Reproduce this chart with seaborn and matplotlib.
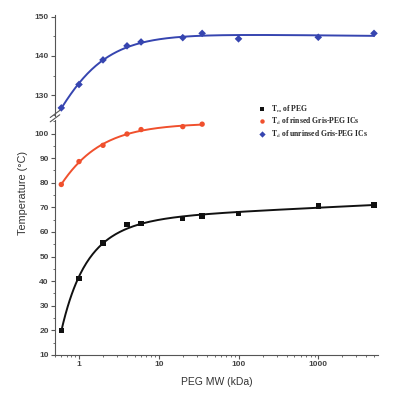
import numpy as np
import pandas as pd
import matplotlib.pyplot as plt
import matplotlib.ticker as mticker
from matplotlib.lines import Line2D
import seaborn as sns

# PEG molecular weight (kDa)
mw = [0.6, 1, 2, 4, 6, 20, 35, 100, 1000, 5000]
mw_rinsed = [0.6, 1, 2, 4, 6, 20, 35]

# temperatures (C)
tm_peg = [20, 41, 55.5, 63, 63.5, 65.5, 66.5, 67.5, 70.5, 71]
td_rinsed = [79.3, 88.6, 95.2, 99.8, 101.6, 102.8, 103.8]
td_unrinsed = [126.7, 132.7, 139, 142.6, 143.6, 144.7, 145.8, 144.4, 144.8, 145.8]

labels = [r'T$_\mathrm{m}$ of PEG',
          r'T$_\mathrm{d}$ of rinsed Gris-PEG ICs',
          r'T$_\mathrm{d}$ of unrinsed Gris-PEG ICs']
colors = ['#111111', '#f0502d', '#3645b0']
markers = ['s', 'o', 'D']


def fit_curve(x, y, x_new):
    # least squares on a simple basis, like the smooth fits in the figure
    x = np.asarray(x, float)
    y = np.asarray(y, float)
    basis = lambda t: np.column_stack([np.ones_like(t), np.log10(t), 1 / t, 1 / t ** 2])
    coef, *_ = np.linalg.lstsq(basis(x), y, rcond=None)
    return basis(x_new) @ coef


pts = pd.concat([
    pd.DataFrame({'mw': mw, 'T': tm_peg, 'series': labels[0]}),
    pd.DataFrame({'mw': mw_rinsed, 'T': td_rinsed, 'series': labels[1]}),
    pd.DataFrame({'mw': mw, 'T': td_unrinsed, 'series': labels[2]}),
])

xs_long = np.geomspace(min(mw), max(mw), 300)
xs_short = np.geomspace(min(mw_rinsed), max(mw_rinsed), 200)
fits = pd.concat([
    pd.DataFrame({'mw': xs_long, 'T': fit_curve(mw, tm_peg, xs_long), 'series': labels[0]}),
    pd.DataFrame({'mw': xs_short, 'T': fit_curve(mw_rinsed, td_rinsed, xs_short), 'series': labels[1]}),
    pd.DataFrame({'mw': xs_long, 'T': fit_curve(mw, td_unrinsed, xs_long), 'series': labels[2]}),
])

sns.set_style('white')
plt.rcParams['mathtext.fontset'] = 'stix'
pal = dict(zip(labels, colors))
mk = dict(zip(labels, markers))
sizes = {labels[0]: 14, labels[1]: 16, labels[2]: 16}

fig = plt.figure(figsize=(3.97, 3.93), dpi=100)
ax_top = fig.add_axes([0.1385, 0.7036, 0.8135, 0.2582])
ax_bot = fig.add_axes([0.1385, 0.0967, 0.8135, 0.598])

for ax in (ax_top, ax_bot):
    sns.lineplot(data=fits, x='mw', y='T', hue='series', palette=pal, lw=1.4,
                 legend=False, ax=ax, estimator=None, sort=False)
    sns.scatterplot(data=pts, x='mw', y='T', hue='series', style='series',
                    palette=pal, markers=mk, s=15, edgecolor='none',
                    legend=False, ax=ax, zorder=3)
    ax.set_xscale('log')
    ax.set_xlim(0.5, 5600)
    ax.set_xlabel('')
    ax.set_ylabel('')
    for s in ('top', 'right'):
        ax.spines[s].set_visible(False)
    ax.spines['left'].set_color('#555555')
    ax.spines['bottom'].set_color('#555555')
    ax.tick_params(axis='both', which='major', direction='out', length=3, width=0.8,
                   color='#555555', labelsize=6, labelcolor='#444444', pad=1.5, left=True, bottom=True)
    ax.tick_params(axis='both', which='minor', direction='out', length=1.6, width=0.6,
                   color='#555555', left=True, bottom=True)

ax_top.set_ylim(124.5, 150.5)
ax_top.yaxis.set_major_locator(mticker.MultipleLocator(10))
ax_top.yaxis.set_minor_locator(mticker.MultipleLocator(5))
ax_top.spines['bottom'].set_visible(False)
ax_top.tick_params(axis='x', which='both', bottom=False, labelbottom=False)

ax_bot.set_ylim(10, 105.5)
ax_bot.yaxis.set_major_locator(mticker.MultipleLocator(10))
ax_bot.yaxis.set_minor_locator(mticker.MultipleLocator(5))
ax_bot.xaxis.set_major_locator(mticker.LogLocator(base=10))
ax_bot.xaxis.set_minor_locator(mticker.LogLocator(base=10, subs=np.arange(2, 10)))
ax_bot.xaxis.set_major_formatter(mticker.FuncFormatter(lambda v, p: f'{v:g}'))
for ax in (ax_top, ax_bot):
    for t in ax.get_yticklabels() + ax.get_xticklabels():
        t.set_fontweight('bold')
        t.set_family('Liberation Sans')

# axis break marks
d = 0.012
kw = dict(transform=fig.transFigure, color='#555555', lw=0.8, clip_on=False)
fig.add_artist(Line2D([0.1385 - d, 0.1385 + d], [0.690, 0.708], **kw))
fig.add_artist(Line2D([0.1385 - d, 0.1385 + d], [0.701, 0.719], **kw))

fig.text(0.057, 0.508, 'Temperature (°C)', rotation=90, ha='center', va='center',
         fontsize=7.8, color='#333333', family='Liberation Sans')
fig.text(0.547, 0.028, 'PEG MW (kDa)', ha='center', va='center',
         fontsize=7.5, color='#333333', family='Liberation Sans')

handles = [Line2D([], [], ls='none', marker=m, color=c, markersize=3.2, markeredgewidth=0)
           for m, c in zip(markers, colors)]
fig.legend(handles, labels, loc='upper left', bbox_to_anchor=(252 / 397, 1 - 98 / 393),
           frameon=False, prop=dict(family='Liberation Serif', weight='bold', size=5.5),
           handletextpad=0.6, labelspacing=0.2, handlelength=1.2, borderpad=0.2)

plt.savefig('out.png', dpi=100)
